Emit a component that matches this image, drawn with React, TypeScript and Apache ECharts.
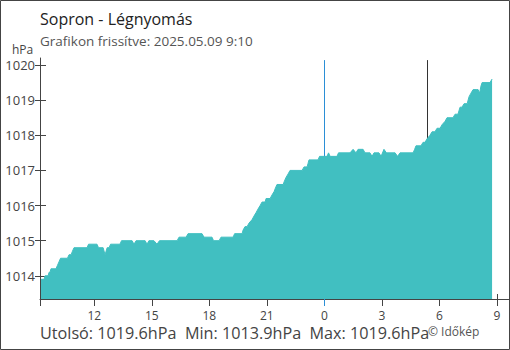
import React, { useEffect, useRef } from "react";
import * as echarts from "echarts";

// hours relative to 2025.05.09 00:00
const TIMES = [
  -14.78, -14.62, -14.57, -14.41, -14.36, -14.31, -14.26, -14.0, -13.92, -13.84,
  -13.76, -13.4, -13.32, -13.21, -13.14, -13.06, -12.38, -12.3, -11.86, -11.78,
  -11.54, -11.44, -11.33, -11.23, -11.15, -10.66, -10.58, -10.03, -9.93, -9.82,
  -9.35, -9.25, -9.15, -8.89, -8.73, -8.6, -7.68, -7.58, -7.21, -7.11,
  -6.38, -6.28, -5.86, -5.78, -5.49, -5.39, -4.76, -4.68, -4.29, -4.24,
  -4.14, -4.03, -3.93, -3.77, -3.67, -3.56, -3.46, -3.35, -3.25, -3.09,
  -3.04, -2.83, -2.73, -2.62, -2.55, -2.47, -2.15, -2.08, -2.0, -1.89,
  -1.79, -1.16, -1.06, -0.9, -0.85, -0.8, -0.33, -0.25, 0.14, 0.22,
  0.3, 0.66, 0.74, 1.34, 1.5, 1.65, 1.76, 2.02, 2.12, 2.38,
  2.49, 2.59, 2.85, 2.96, 3.11, 3.24, 3.69, 3.82, 3.95, 4.63,
  4.71, 4.78, 5.04, 5.15, 5.25, 5.36, 5.51, 5.62, 5.77, 5.88,
  6.04, 6.14, 6.3, 6.4, 6.71, 6.82, 6.97, 7.08, 7.18, 7.29,
  7.45, 7.55, 7.65, 7.76, 7.92, 8.02, 8.1, 8.17, 8.23, 8.64,
  8.75,
];

const PRESSURE = [
  1013.9, 1013.9, 1014.0, 1014.0, 1014.1, 1014.1, 1014.2, 1014.2, 1014.3, 1014.4,
  1014.5, 1014.5, 1014.6, 1014.6, 1014.7, 1014.8, 1014.8, 1014.9, 1014.9, 1014.8,
  1014.8, 1014.6, 1014.8, 1014.8, 1014.9, 1014.9, 1015.0, 1015.0, 1014.9, 1015.0,
  1015.0, 1014.9, 1015.0, 1015.0, 1014.9, 1015.0, 1015.0, 1015.1, 1015.1, 1015.2,
  1015.2, 1015.1, 1015.1, 1015.0, 1015.0, 1015.1, 1015.1, 1015.2, 1015.2, 1015.3,
  1015.4, 1015.4, 1015.5, 1015.6, 1015.7, 1015.8, 1015.9, 1016.0, 1016.1, 1016.1,
  1016.2, 1016.2, 1016.3, 1016.4, 1016.5, 1016.6, 1016.6, 1016.7, 1016.8, 1016.9,
  1017.0, 1017.0, 1017.1, 1017.1, 1017.2, 1017.3, 1017.3, 1017.4, 1017.4, 1017.5,
  1017.4, 1017.4, 1017.5, 1017.5, 1017.6, 1017.5, 1017.6, 1017.6, 1017.5, 1017.5,
  1017.4, 1017.5, 1017.5, 1017.4, 1017.6, 1017.5, 1017.5, 1017.4, 1017.5, 1017.5,
  1017.6, 1017.7, 1017.7, 1017.8, 1017.8, 1017.9, 1018.0, 1018.1, 1018.1, 1018.2,
  1018.2, 1018.3, 1018.4, 1018.5, 1018.5, 1018.6, 1018.6, 1018.8, 1018.8, 1018.9,
  1018.9, 1019.1, 1019.2, 1019.3, 1019.3, 1019.3, 1019.2, 1019.4, 1019.5, 1019.5,
  1019.6,
];

const X_TICKS = [-12, -9, -6, -3, 0, 3, 6, 9];
const Y_TICKS = [1014, 1015, 1016, 1017, 1018, 1019, 1020];
const X_MIN = -14.833;
const X_MAX = 9.633;
const Y_MIN = 1013.34;
const Y_MAX = 1020.2;
const MIDNIGHT = 0;
const SUNRISE = 5.37;
const LINE_TOP = 1020.14;

const TITLE = "Sopron - Légnyomás";
const SUBTITLE = "Grafikon frissítve: 2025.05.09 9:10";
const UNIT = "hPa";
const CREDIT = "© Időkép";

const FONT = "'Open Sans', 'Noto Sans', sans-serif";
const AXIS = "#444";
const FILL = "#41bfc1";
const BLUE = "#2b8fd6";

export default function App() {
  const ref = useRef<HTMLDivElement>(null);
  useEffect(() => {
    if (!ref.current) return;
    const chart = echarts.init(ref.current, undefined, { renderer: "svg" });
    const data = TIMES.map((t, i) => [t, PRESSURE[i]]);
    const last = PRESSURE[PRESSURE.length - 1];
    const mn = Math.min(...PRESSURE);
    const mx = Math.max(...PRESSURE);
    const stats = `Utolsó: ${last.toFixed(1)}hPa  Min: ${mn.toFixed(1)}hPa  Max: ${mx.toFixed(1)}hPa`;
    const hourFmt = (v: number) => String(((Math.round(v) % 24) + 24) % 24);

    chart.setOption({
      animation: false,
      textStyle: { fontFamily: FONT },
      grid: { left: 40, right: 1, top: 58, bottom: 51 },
      xAxis: [
        {
          type: "value",
          min: X_MIN,
          max: X_MAX,
          axisLine: { show: true, onZero: false, lineStyle: { color: AXIS, width: 1 } },
          axisTick: {
            show: true,
            length: 7,
            customValues: [X_MIN, ...X_TICKS],
            lineStyle: { color: AXIS },
          },
          axisLabel: {
            customValues: X_TICKS,
            formatter: hourFmt,
            color: AXIS,
            fontSize: 12,
            margin: 10,
            fontFamily: FONT,
          },
          splitLine: { show: false },
        },
        {
          type: "value",
          min: X_MIN,
          max: X_MAX,
          position: "bottom",
          axisLine: { show: false, onZero: false },
          axisTick: {
            show: true,
            length: 7,
            customValues: [MIDNIGHT],
            lineStyle: { color: BLUE },
          },
          axisLabel: { show: false },
          splitLine: { show: false },
        },
        {
          type: "value",
          min: X_MIN,
          max: X_MAX,
          position: "bottom",
          axisLine: { show: false, onZero: false },
          axisTick: {
            show: true,
            inside: true,
            length: 5,
            customValues: [X_TICKS[X_TICKS.length - 1]],
            lineStyle: { color: AXIS },
          },
          axisLabel: { show: false },
          splitLine: { show: false },
        },
      ],
      yAxis: [
        {
          type: "value",
          min: Y_MIN,
          max: Y_MAX,
          position: "left",
          axisLine: { show: true, onZero: false, lineStyle: { color: AXIS, width: 1 } },
          axisTick: {
            show: true,
            length: 5,
            customValues: Y_TICKS,
            lineStyle: { color: AXIS },
          },
          axisLabel: {
            customValues: Y_TICKS,
            formatter: (v: number) => String(v),
            color: AXIS,
            fontSize: 13,
            margin: 5,
            fontFamily: FONT,
          },
          splitLine: { show: false },
        },
        {
          type: "value",
          min: Y_MIN,
          max: Y_MAX,
          position: "left",
          axisLine: { show: false, onZero: false },
          axisTick: {
            show: true,
            inside: true,
            length: 6,
            customValues: Y_TICKS,
            lineStyle: { color: AXIS },
          },
          axisLabel: { show: false },
          splitLine: { show: false },
        },
      ],
      series: [
        {
          type: "line",
          z: 1,
          data: [],
          markLine: {
            silent: true,
            z: 1,
            symbol: "none",
            label: { show: false },
            data: [
              [
                { coord: [MIDNIGHT, LINE_TOP], lineStyle: { color: BLUE, width: 1, type: "solid" } },
                { coord: [MIDNIGHT, Y_MIN] },
              ],
              [
                { coord: [SUNRISE, LINE_TOP], lineStyle: { color: "#333", width: 1, type: "solid" } },
                { coord: [SUNRISE, Y_MIN] },
              ],
            ],
          },
        },
        {
          type: "line",
          z: 3,
          data,
          showSymbol: false,
          symbol: "none",
          lineStyle: { color: FILL, width: 1 },
          areaStyle: { color: FILL, opacity: 1, origin: "start" },
        },
      ],
      graphic: [
        {
          type: "rect",
          shape: { x: 0.5, y: 0.5, width: 509, height: 349 },
          style: { fill: "none", stroke: "#444", lineWidth: 1 },
          silent: true,
        },
        {
          type: "text",
          x: 40,
          y: 19,
          style: { text: TITLE, fontSize: 16, fill: "#222", fontFamily: FONT, textVerticalAlign: "middle" },
        },
        {
          type: "text",
          x: 40,
          y: 41,
          style: { text: SUBTITLE, fontSize: 13.5, fill: "#555", fontFamily: FONT, textVerticalAlign: "middle" },
        },
        {
          type: "text",
          x: 12,
          y: 49,
          style: { text: UNIT, fontSize: 12, fill: AXIS, fontFamily: FONT, textVerticalAlign: "middle" },
        },
        {
          type: "text",
          x: 40,
          y: 333,
          style: { text: stats, fontSize: 16.2, fill: "#444", fontFamily: FONT, textVerticalAlign: "middle" },
        },
        {
          type: "text",
          x: 428,
          y: 331,
          style: { text: CREDIT, fontSize: 12, fill: "#555", fontFamily: FONT, textVerticalAlign: "middle" },
        },
      ],
    });
    return () => chart.dispose();
  }, []);
  return <div ref={ref} style={{ width: 510, height: 350, position: "absolute", left: 0, top: 0 }} />;
}
